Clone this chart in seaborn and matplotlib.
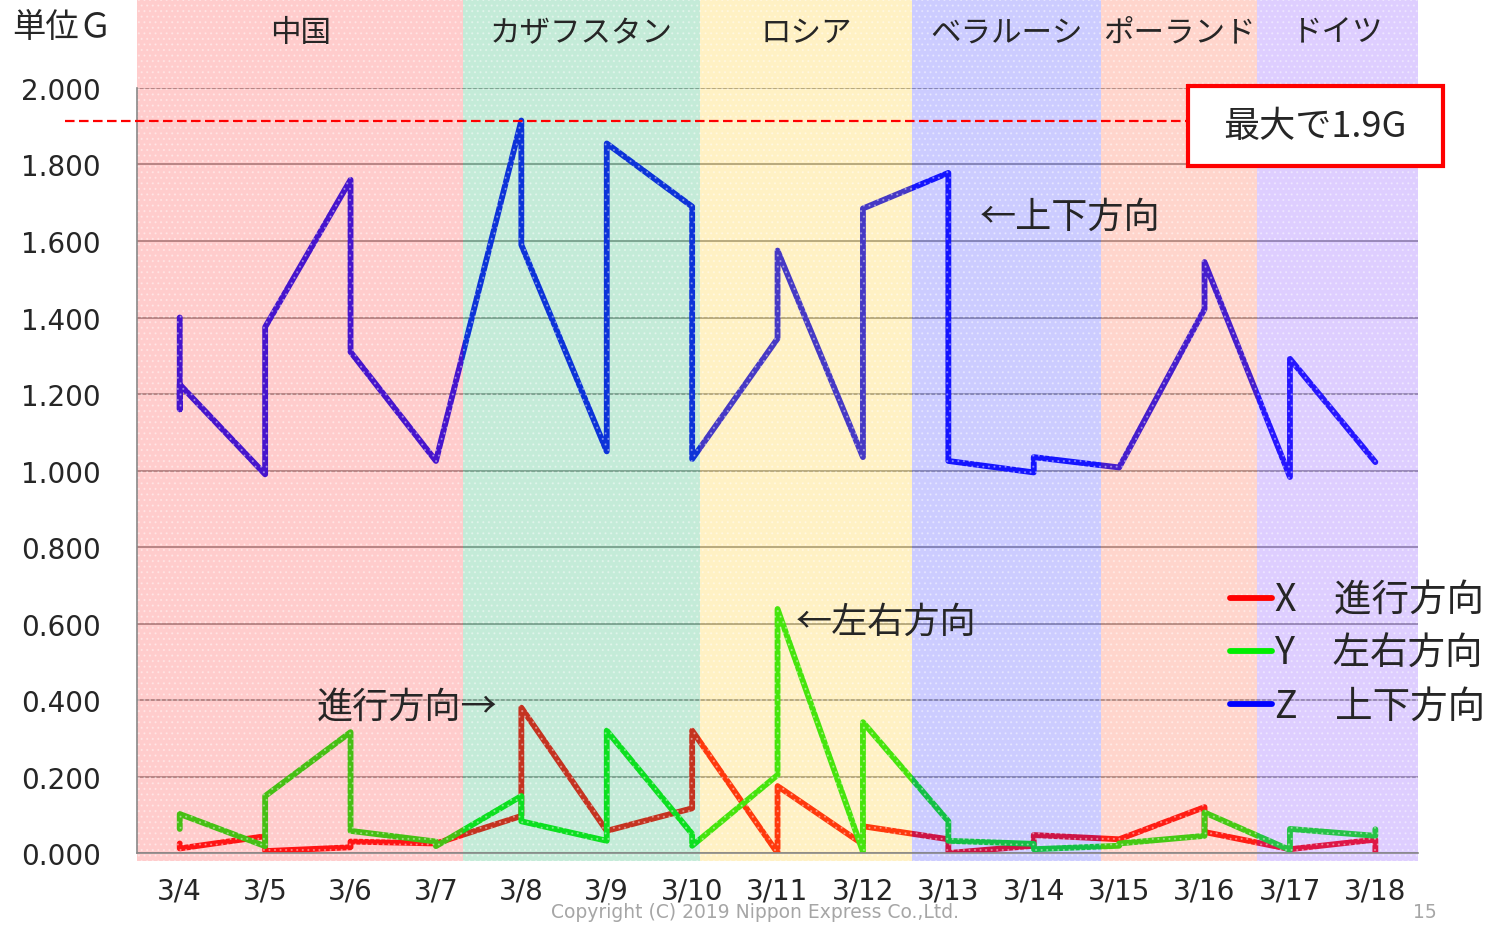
import numpy as np
import pandas as pd
import matplotlib
matplotlib.use('Agg')
import matplotlib.pyplot as plt
from matplotlib.patches import Rectangle
import seaborn as sns

# x axis categories
dates = ['3/4', '3/5', '3/6', '3/7', '3/8', '3/9', '3/10', '3/11',
         '3/12', '3/13', '3/14', '3/15', '3/16', '3/17', '3/18']

# X (進行方向): day index + reading, several readings per day give the vertical jumps
x_days = [0, 0, 1, 1, 2, 2, 3, 4, 4, 5, 6, 6, 7, 7, 8, 8, 9, 9, 10, 10, 11, 12, 12, 13, 14, 14]
x_vals = [0.025, 0.012, 0.044, 0.005, 0.015, 0.030, 0.025, 0.097, 0.380, 0.058,
          0.117, 0.320, 0.000, 0.175, 0.023, 0.070, 0.036, 0.000, 0.019, 0.047,
          0.036, 0.120, 0.055, 0.010, 0.035, 0.000]

# Y (左右方向)
y_days = [0, 0, 1, 1, 2, 2, 3, 3, 4, 4, 5, 5, 6, 6, 7, 7, 8, 8, 9, 9,
          10, 10, 11, 11, 12, 12, 13, 13, 14, 14]
y_vals = [0.063, 0.102, 0.018, 0.149, 0.316, 0.058, 0.030, 0.018, 0.149, 0.083,
          0.032, 0.320, 0.050, 0.019, 0.204, 0.638, 0.003, 0.342, 0.083, 0.032,
          0.024, 0.010, 0.019, 0.025, 0.045, 0.106, 0.008, 0.063, 0.045, 0.062]

# Z (上下方向)
z_days = [0, 0, 0, 1, 1, 2, 2, 3, 4, 4, 5, 5, 6, 6, 7, 7, 8, 8, 9, 9,
          10, 10, 11, 12, 12, 13, 13, 14]
z_vals = [1.400, 1.160, 1.225, 0.990, 1.375, 1.760, 1.310, 1.025, 1.915, 1.590,
          1.050, 1.855, 1.690, 1.030, 1.345, 1.575, 1.035, 1.685, 1.778, 1.025,
          0.995, 1.035, 1.008, 1.422, 1.545, 0.983, 1.292, 1.022]

series_names = ['X\u3000進行方向', 'Y\u3000左右方向', 'Z\u3000上下方向']

# countries the route passes through, with their span on the date axis
regions = ['中国', 'カザフスタン', 'ロシア', 'ベラルーシ', 'ポーランド', 'ドイツ']
region_edges = [-0.5, 3.32, 6.09, 8.58, 10.79, 12.61, 14.5]

df = pd.concat([
    pd.DataFrame({'day': x_days, 'value': x_vals, 'series': series_names[0]}),
    pd.DataFrame({'day': y_days, 'value': y_vals, 'series': series_names[1]}),
    pd.DataFrame({'day': z_days, 'value': z_vals, 'series': series_names[2]}),
], ignore_index=True)

sns.set_style('white')
plt.rcParams['font.family'] = ['DejaVu Sans', 'Noto Sans CJK JP']
plt.rcParams['hatch.linewidth'] = 0.8
jp = ['Noto Sans CJK JP', 'DejaVu Sans']

fig = plt.figure(figsize=(15.06, 9.28), dpi=100)
ax = fig.add_axes([0.0910, 0.0797, 0.8506, 0.8244])

palette = {series_names[0]: '#ff0000', series_names[1]: '#00ee00', series_names[2]: '#0000ff'}
sns.lineplot(data=df, x='day', y='value', hue='series', palette=palette,
             sort=False, estimator=None, linewidth=4.2, ax=ax)

# translucent, dotted country bands drawn over the lines (like the slide overlay)
band_colors = ['#ff4848', '#2db976', '#ffcd2d', '#4848ff', '#ff6948', '#8a52ff']
for i, name in enumerate(regions):
    x0, x1 = region_edges[i], region_edges[i + 1]
    ax.add_patch(Rectangle((x0, -0.0105), x1 - x0, 1.127, transform=ax.get_xaxis_transform(),
                           facecolor=band_colors[i], alpha=0.28, lw=0, zorder=2.5, clip_on=False))
    ax.add_patch(Rectangle((x0, -0.0105), x1 - x0, 1.127, transform=ax.get_xaxis_transform(),
                           facecolor='none', edgecolor='white', hatch='...', alpha=0.35,
                           lw=0, zorder=2.6, clip_on=False))
    ax.text((x0 + x1) / 2, 1.073, name, transform=ax.get_xaxis_transform(),
            ha='center', va='center', fontsize=22, family=jp, zorder=6, clip_on=False)

# max line
z_max = max(z_vals)
ax.plot([-1.34, 11.81], [z_max, z_max], color='red', lw=1.6, ls=(0, (4.3, 2)),
        clip_on=False, zorder=3)

ax.set_xlim(-0.5, 14.5)
ax.set_ylim(0, 2.0)
ax.set_xticks(range(len(dates)))
ax.set_xticklabels(dates)
ax.set_xticks(np.arange(-0.5, 15, 1), minor=True)
ax.tick_params(axis='x', which='major', length=0, pad=17, labelsize=20)
ax.tick_params(axis='x', which='minor', length=8, width=1.2, color='#888888')
ax.set_yticks(np.arange(0, 2.01, 0.2))
ax.yaxis.set_major_formatter(lambda v, p: f'{v:.3f}')
ax.tick_params(axis='y', length=5, width=1.2, color='#888888', pad=21, labelsize=20)
ax.yaxis.grid(True, color='#8c8c8c', lw=1.2)
ax.xaxis.grid(False)
ax.set_axisbelow(True)
for s in ['top', 'right']:
    ax.spines[s].set_visible(False)
for s in ['left', 'bottom']:
    ax.spines[s].set_color('#888888')
    ax.spines[s].set_linewidth(1.2)
ax.set_xlabel('')
ax.set_ylabel('')

# annotations
ax.text(2.66, 0.382, '進行方向→', ha='center', va='center', fontsize=26, family=jp, zorder=3)
ax.text(8.27, 0.604, '←左右方向', ha='center', va='center', fontsize=26, family=jp, zorder=3)
ax.text(10.43, 1.663, '←上下方向', ha='center', va='center', fontsize=26, family=jp, zorder=3)

handles, labels = ax.get_legend_handles_labels()
leg = ax.legend(handles, labels, loc='upper left', bbox_to_anchor=(1230 / 1506, 1 - 582 / 928),
                bbox_transform=fig.transFigure, frameon=False, prop={'family': jp, 'size': 27},
                handlelength=1.12, handletextpad=0.08, borderpad=0, borderaxespad=0,
                labelspacing=0.37)
for h in leg.legend_handles:
    h.set_linewidth(4.2)
leg.set_zorder(6)

# max box
fig.add_artist(Rectangle((1188 / 1506, 1 - 167 / 928), 255 / 1506, 80 / 928,
                         transform=fig.transFigure, facecolor='white', edgecolor='red',
                         lw=3, zorder=10))
fig.text(1315 / 1506, 1 - 127 / 928, '最大で1.9G', ha='center', va='center',
         fontsize=26, family=jp, zorder=11)

fig.text(12 / 1506, 1 - 27 / 928, '単位Ｇ', ha='left', va='center', fontsize=24, family=jp)
fig.text(755 / 1506, 1 - 913 / 928, 'Copyright (C) 2019 Nippon Express Co.,Ltd.',
         ha='center', va='center', fontsize=13.5, color='#a6a6a6')
fig.text(1425 / 1506, 1 - 913 / 928, '15', ha='center', va='center', fontsize=13.5, color='#a6a6a6')

fig.savefig('out.png', dpi=100)
